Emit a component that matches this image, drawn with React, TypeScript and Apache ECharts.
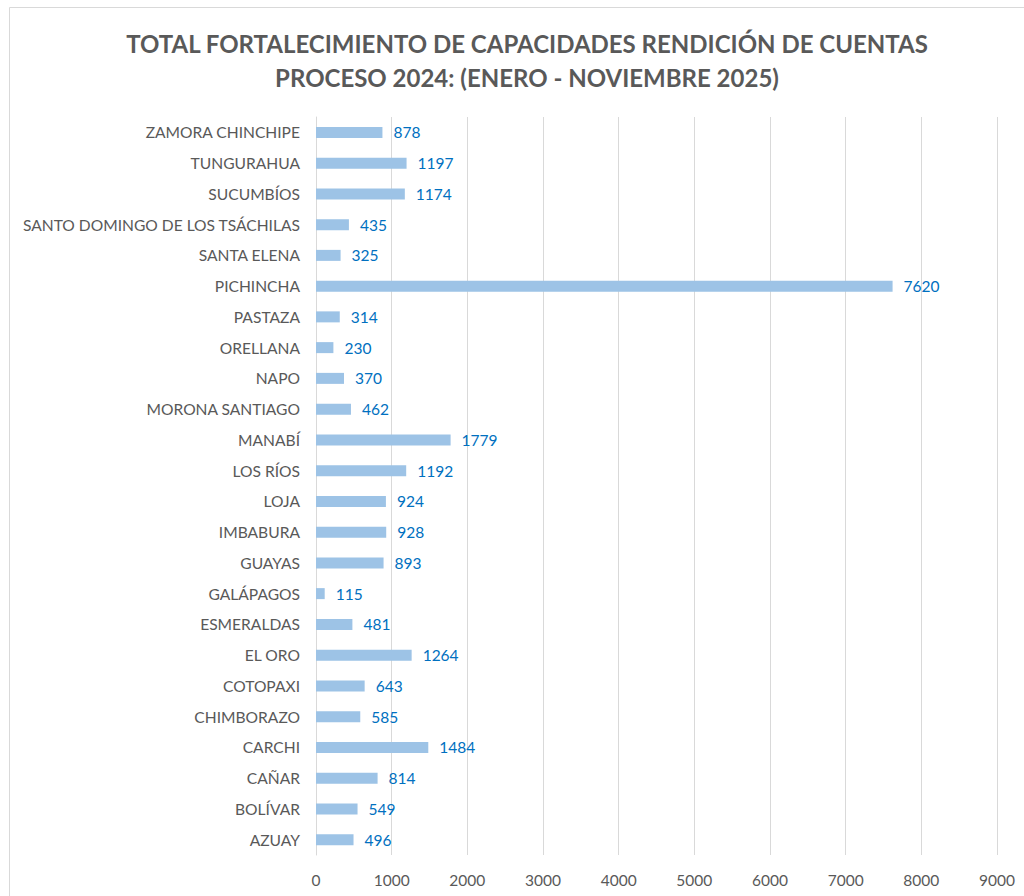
import React, { useEffect, useRef } from "react";
import * as echarts from "echarts";

const categories = [
  "AZUAY", "BOLÍVAR", "CAÑAR", "CARCHI", "CHIMBORAZO", "COTOPAXI", "EL ORO",
  "ESMERALDAS", "GALÁPAGOS", "GUAYAS", "IMBABURA", "LOJA", "LOS RÍOS", "MANABÍ",
  "MORONA SANTIAGO", "NAPO", "ORELLANA", "PASTAZA", "PICHINCHA", "SANTA ELENA",
  "SANTO DOMINGO DE LOS TSÁCHILAS", "SUCUMBÍOS", "TUNGURAHUA", "ZAMORA CHINCHIPE",
];
const values = [
  496, 549, 814, 1484, 585, 643, 1264, 481, 115, 893, 928, 924, 1192, 1779,
  462, 370, 230, 314, 7620, 325, 435, 1174, 1197, 878,
];
const titleLines = [
  "TOTAL FORTALECIMIENTO DE CAPACIDADES RENDICIÓN DE CUENTAS",
  "PROCESO 2024: (ENERO - NOVIEMBRE 2025)",
];

const FONT = "Lato, 'Open Sans', sans-serif";

export default function App() {
  const ref = useRef<HTMLDivElement>(null);
  useEffect(() => {
    document.body.style.margin = "0";
    const chart = echarts.init(ref.current!, null, { renderer: "svg" });
    chart.setOption({
      animation: false,
      backgroundColor: "#ffffff",
      title: {
        text: titleLines.join("\n"),
        left: 522,
        textAlign: "center",
        top: 21,
        textStyle: {
          fontFamily: FONT,
          fontSize: 24,
          fontWeight: "bold",
          color: "#595959",
          lineHeight: 34,
        },
      },
      graphic: [
        {
          type: "rect",
          shape: { x: 9.5, y: 7.5, width: 1030, height: 900 },
          style: { fill: "none", stroke: "#D9D9D9", lineWidth: 1 },
          silent: true,
        },
      ],
      grid: { left: 316, right: 27, top: 117, bottom: 41, containLabel: false },
      xAxis: {
        type: "value",
        min: 0,
        max: 9000,
        interval: 1000,
        axisLine: { show: false },
        axisTick: { show: false },
        axisLabel: {
          fontFamily: FONT,
          fontSize: 15.5,
          color: "#595959",
          margin: 17,
          formatter: (v: number) => String(v),
        },
        splitLine: { show: true, lineStyle: { color: "#D9D9D9", width: 1 } },
      },
      yAxis: {
        type: "category",
        data: categories,
        axisLine: { show: true, lineStyle: { color: "#D9D9D9", width: 1 } },
        axisTick: { show: false },
        axisLabel: {
          fontFamily: FONT,
          fontSize: 15.6,
          color: "#595959",
          margin: 16,
        },
      },
      series: [
        {
          type: "bar",
          data: values,
          barWidth: 11,
          itemStyle: { color: "#9DC3E6" },
          label: {
            show: true,
            position: "right",
            distance: 11,
            fontFamily: FONT,
            fontSize: 15.5,
            color: "#0070C0",
          },
        },
      ],
    });
    return () => chart.dispose();
  }, []);
  return (
    <div
      ref={ref}
      style={{ position: "absolute", left: 0, top: 0, width: 1024, height: 896 }}
    />
  );
}
